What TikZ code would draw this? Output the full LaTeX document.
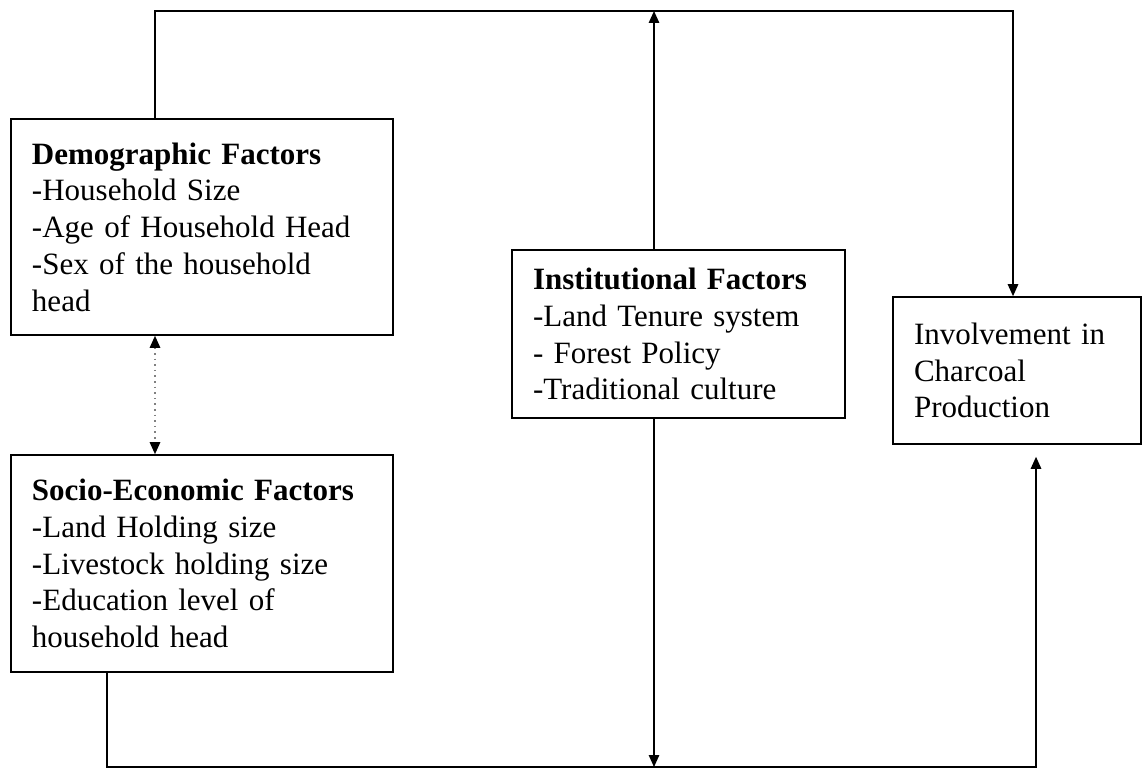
\documentclass[tikz,border=0pt]{standalone}
\usepackage{fontspec}
\setmainfont{Liberation Serif}
\usetikzlibrary{arrows.meta}
\begin{document}
\begin{tikzpicture}[x=0.25pt,y=-0.25pt,
  factorbox/.style={draw, line width=0.4pt, inner xsep=5.25pt, inner ysep=0pt,
    align=left, font=\fontsize{7.75}{9.2}\selectfont},
  link/.style={line width=0.4pt},
  tip/.style={-{Triangle[length=3pt,width=2.6pt]}},
  bothtips/.style={{Triangle[length=3pt,width=2.6pt,color=black]}-{Triangle[length=3pt,width=2.6pt,color=black]}}
]
\useasboundingbox (0,0) rectangle (1143,770);

% factor boxes
\node[factorbox, text width=85pt, minimum height=54pt] (demo) at (202,227)
  {\textbf{Demographic Factors}\\-Household Size\\-Age of Household Head\\-Sex of the household\\head};
\node[factorbox, text width=85pt, minimum height=54.25pt] (socio) at (202,563.5)
  {\textbf{Socio-Economic Factors}\\-Land Holding size\\-Livestock holding size\\-Education level of\\household head};
\node[factorbox, text width=72.75pt, minimum height=42pt] (inst) at (678.5,334)
  {\textbf{Institutional Factors}\\-Land Tenure system\\- Forest Policy\\-Traditional culture};
\node[factorbox, text width=51.5pt, minimum height=36.75pt] (invol) at (1017,370.5)
  {Involvement in\\Charcoal\\Production};

% corner points of the connectors
\coordinate (tl) at (155,11);
\coordinate (tm) at (654,11);
\coordinate (tr) at (1013,11);
\coordinate (bl) at (107,767);
\coordinate (bm) at (654,767);
\coordinate (br) at (1036,767);

% upper loop: demographic factors to involvement
\draw[link, tip] (demo.north -| tl) -- (tl) -- (tr) -- (tr |- invol.north);
% institutional factors up to the upper loop and down to the lower loop
\draw[link, tip] (inst.north -| tm) -- (tm);
\draw[link, tip] (inst.south -| bm) -- (bm);
% lower loop: socio-economic factors to involvement
\draw[link, tip] (socio.south -| bl) -- (bl) -- (br) -- ([yshift=-3pt]br |- invol.south);
% dotted link between demographic and socio-economic factors
\draw[link, densely dotted, gray, bothtips] (demo.south -| tl) -- (socio.north -| tl);
\end{tikzpicture}
\end{document}
